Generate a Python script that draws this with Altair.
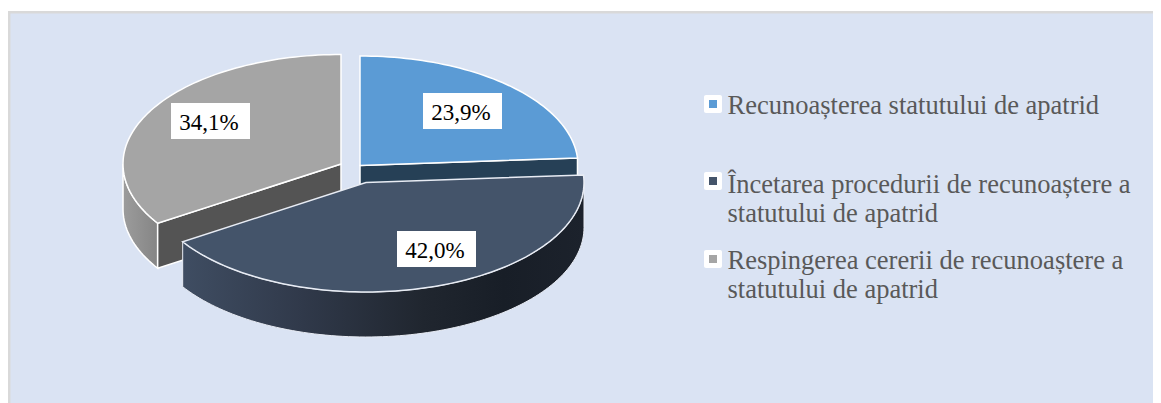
import math
import altair as alt
import pandas as pd

categories = ["Recunoașterea statutului de apatrid",
              "Încetarea procedurii de recunoaștere a statutului de apatrid",
              "Respingerea cererii de recunoaștere a statutului de apatrid"]
values = [23.9, 42.0, 34.1]
labels = ["23,9%", "42,0%", "34,1%"]
legend_lines = [["Recunoașterea statutului de apatrid"],
                ["Încetarea procedurii de recunoaștere a", "statutului de apatrid"],
                ["Respingerea cererii de recunoaștere a", "statutului de apatrid"]]
top_colors = ["#5b9bd5", "#44546a", "#a5a5a5"]
centers = [(360, 165.5), (366, 182.5), (341, 164)]
label_centers = [(462.5, 111), (436.5, 249), (210.5, 121)]
legend_y = [104, 181, 259]
legend_baselines = [[114], [193, 222], [268.5, 298]]

RX, RY, DEPTH = 218, 109.5, 45
SX = alt.Scale(domain=[8, 1153], nice=False, zero=False)
SY = alt.Scale(domain=[403, 8], nice=False, zero=False)
X = alt.X("x:Q", scale=SX, axis=None)
Y = alt.Y("y:Q", scale=SY, axis=None)
X2 = alt.X2("x2:Q")
Y2 = alt.Y2("y2:Q")


def rim(c, a0, a1, dy=0):
    n = max(2, int(abs(a1 - a0) / 1.5))
    pts = []
    for i in range(n + 1):
        a = math.radians(a0 + (a1 - a0) * i / n)
        pts.append((c[0] + RX * math.sin(a), c[1] + dy - RY * math.cos(a)))
    return pts


def poly(pts, fill, width=1.5, stroke="white"):
    df = pd.DataFrame(pts, columns=["x", "y"]).reset_index()
    return alt.Chart(df).mark_line(interpolate="linear-closed", fill=fill, stroke=stroke,
                                   strokeWidth=width, clip=True).encode(x=X, y=Y, order="index:Q")


def grad(stops):
    return {"gradient": "linear", "x1": 0, "x2": 1, "y1": 0, "y2": 0,
            "stops": [{"offset": o, "color": c} for o, c in stops]}


edges = [0]
for v in values:
    edges.append(edges[-1] + v * 3.6)
a_blue, a_dark = edges[1], edges[2]
cb, cd, cg = centers

layers = []
panel = pd.DataFrame({"x": [9.2], "x2": [1300], "y": [12.2], "y2": [600]})
layers.append(alt.Chart(panel).mark_rect(fill="#dae3f3", stroke="#d9d9d9", strokeWidth=2.5, clip=True)
              .encode(x=X, x2=X2, y=Y, y2=Y2))

# gray slice
gw = rim(cg, 270, a_dark) + rim(cg, a_dark, 270, DEPTH)
layers.append(poly(gw, grad([(0, "#9c9c9c"), (1, "#858585")])))
ga = rim(cg, a_dark, a_dark)[0]
layers.append(poly([cg, ga, (ga[0], ga[1] + DEPTH), (cg[0], cg[1] + DEPTH)], "#545454"))
layers.append(poly([cg] + rim(cg, a_dark, 360), top_colors[2]))

# blue slice
ba = rim(cb, a_blue, a_blue)[0]
layers.append(poly([cb, ba, (ba[0], ba[1] + DEPTH), (cb[0], cb[1] + DEPTH)], "#264056"))
layers.append(poly([cb] + rim(cb, 0, a_blue), top_colors[0]))

# dark slice
dw = rim(cd, 90, a_dark) + rim(cd, a_dark, 90, DEPTH)
layers.append(poly(dw, grad([(0, "#3f4d62"), (0.3, "#30394a"), (0.6, "#20262f"),
                             (0.8, "#181e27"), (1, "#1c222c")]), width=1, stroke="#e8ecf4"))
layers.append(poly([cd] + rim(cd, a_blue, a_dark), top_colors[1], width=1.5, stroke="#e8ecf4"))

# value labels
lab = pd.DataFrame({"x": [c[0] for c in label_centers], "y": [c[1] for c in label_centers], "t": labels})
lab["x0"], lab["x2"] = lab.x - 39.5, lab.x + 39.5
lab["y0"], lab["y2"] = lab.y - 18, lab.y + 18
layers.append(alt.Chart(lab).mark_rect(fill="white").encode(
    x=alt.X("x0:Q", scale=SX, axis=None), x2=X2,
    y=alt.Y("y0:Q", scale=SY, axis=None), y2=Y2))
layers.append(alt.Chart(lab).mark_text(font="Liberation Serif", fontSize=23, color="black", dx=-1.5, dy=1.5,
                                       align="center", baseline="middle").encode(x=X, y=Y, text="t:N"))

# legend
leg = pd.DataFrame({"x": [713] * 3, "y": legend_y, "c": top_colors})
leg["x0"], leg["x2"] = leg.x - 9, leg.x + 9
leg["y0"], leg["y2"] = leg.y - 9, leg.y + 9
leg["x3"], leg["x4"] = leg.x - 4, leg.x + 4
leg["y3"], leg["y4"] = leg.y - 4, leg.y + 4
layers.append(alt.Chart(leg).mark_rect(fill="white", cornerRadius=2).encode(
    x=alt.X("x0:Q", scale=SX, axis=None), x2=X2,
    y=alt.Y("y0:Q", scale=SY, axis=None), y2=Y2))
layers.append(alt.Chart(leg).mark_rect().encode(
    x=alt.X("x3:Q", scale=SX, axis=None), x2=alt.X2("x4:Q"),
    y=alt.Y("y3:Q", scale=SY, axis=None), y2=alt.Y2("y4:Q"),
    color=alt.Color("c:N", scale=None)))
rows = []
for lines, bases in zip(legend_lines, legend_baselines):
    for t, b in zip(lines, bases):
        rows.append({"x": 727.5, "y": b, "t": t})
layers.append(alt.Chart(pd.DataFrame(rows)).mark_text(
    font="Liberation Serif", fontSize=26.5, color="#595959", align="left", baseline="alphabetic"
).encode(x=X, y=Y, text="t:N"))

chart = alt.layer(*layers).properties(width=1145, height=395, padding=0, autosize=alt.AutoSizeParams(type="none")
        ).configure_view(stroke=None)
chart.save("out.html", embed_options={"renderer": "svg", "actions": False})
